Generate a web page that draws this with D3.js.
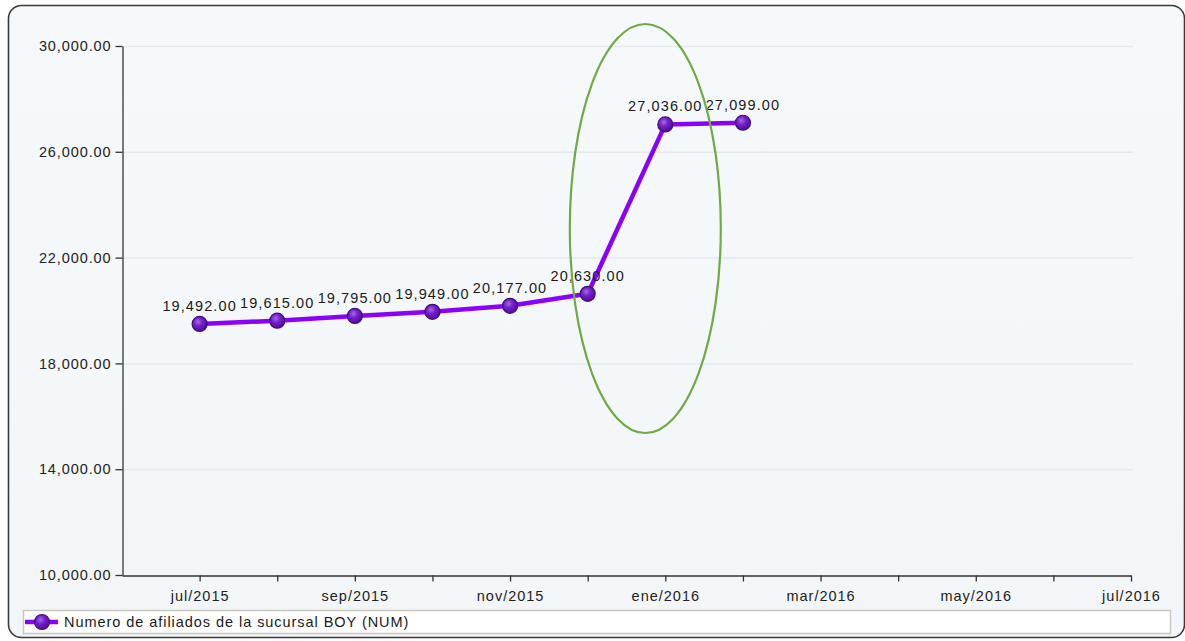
<!DOCTYPE html>
<html>
<head>
<meta charset="utf-8">
<script src="https://cdn.jsdelivr.net/npm/d3@7"></script>
<style>
  html, body { margin: 0; padding: 0; background: #ffffff; }
  svg { display: block; }
  text { font-family: "Liberation Sans", Arial, sans-serif; }
</style>
</head>
<body>
<svg id="chart" width="1185" height="641"></svg>
<script>
// Monthly members of the BOY branch
const months = ["jul/2015", "ago/2015", "sep/2015", "oct/2015", "nov/2015", "dic/2015", "ene/2016", "feb/2016"];
const members = [19492, 19615, 19795, 19949, 20177, 20630, 27036, 27099];

// Axis months (jun/2015 .. jul/2016), every other one labelled
const axisMonths = ["jun/2015", "jul/2015", "ago/2015", "sep/2015", "oct/2015", "nov/2015", "dic/2015",
                    "ene/2016", "feb/2016", "mar/2016", "abr/2016", "may/2016", "jun/2016", "jul/2016"];
const labelledMonths = ["jul/2015", "sep/2015", "nov/2015", "ene/2016", "mar/2016", "may/2016", "jul/2016"];
const yTicks = [10000, 14000, 18000, 22000, 26000, 30000];
const seriesName = "Numero de afiliados de la sucursal BOY (NUM)";

const svg = d3.select("#chart");
const plot = { left: 122, right: 1131, top: 46, bottom: 575 };

const defs = svg.append("defs");
const bg = defs.append("linearGradient").attr("id", "bgGrad").attr("x1", 0).attr("y1", 0).attr("x2", 0).attr("y2", 1);
bg.append("stop").attr("offset", "0%").attr("stop-color", "#f6f9fc");
bg.append("stop").attr("offset", "100%").attr("stop-color", "#f3f6f9");

const mk = defs.append("radialGradient").attr("id", "markerGrad")
  .attr("cx", "40%").attr("cy", "35%").attr("r", "65%");
mk.append("stop").attr("offset", "0%").attr("stop-color", "#a46be0");
mk.append("stop").attr("offset", "45%").attr("stop-color", "#751fcc");
mk.append("stop").attr("offset", "100%").attr("stop-color", "#560aa0");

// Outer frame
svg.append("rect")
  .attr("x", 8.5).attr("y", 5.5).attr("width", 1176).attr("height", 632)
  .attr("rx", 13).attr("ry", 13)
  .attr("fill", "url(#bgGrad)")
  .attr("stroke", "#3a3a3a").attr("stroke-width", 1.6);

// Scales
const x = d3.scalePoint().domain(axisMonths).range([plot.left, plot.right]);
const y = d3.scaleLinear().domain([10000, 30000]).range([plot.bottom, plot.top]);
const fmt = d3.format(",.2f");

// Horizontal gridlines
svg.append("g").selectAll("line")
  .data(yTicks.filter(v => v > 10000))
  .join("line")
  .attr("x1", plot.left).attr("x2", plot.right + 2)
  .attr("y1", d => y(d) + 0.5).attr("y2", d => y(d) + 0.5)
  .attr("stroke", "#e6e9ed").attr("stroke-width", 1.5);

// Y axis
const yAxis = svg.append("g")
  .attr("transform", `translate(${plot.left + 0.5},0)`)
  .call(d3.axisLeft(y).tickValues(yTicks).tickFormat(fmt).tickSize(7).tickPadding(4).tickSizeOuter(0));
yAxis.select(".domain").attr("stroke", "#333").attr("stroke-width", 1.3);
yAxis.selectAll(".tick line").attr("stroke", "#333").attr("stroke-width", 1.3);
yAxis.selectAll(".tick text").attr("font-size", 14.5).attr("fill", "#222")
  .attr("letter-spacing", 0.9)
  .attr("font-family", "Liberation Sans, Arial, sans-serif");

// X axis
const xAxis = svg.append("g")
  .attr("transform", `translate(0,${plot.bottom + 0.5})`)
  .call(d3.axisBottom(x).tickValues(axisMonths.slice(1))
    .tickFormat(d => labelledMonths.includes(d) ? d : "")
    .tickSize(6).tickPadding(6).tickSizeOuter(0));
xAxis.select(".domain").attr("stroke", "#333").attr("stroke-width", 1.3);
xAxis.selectAll(".tick line").attr("stroke", "#333").attr("stroke-width", 1.3);
xAxis.selectAll(".tick text").attr("font-size", 14.5).attr("fill", "#222")
  .attr("letter-spacing", 1).attr("dy", "0.95em")
  .attr("font-family", "Liberation Sans, Arial, sans-serif");

// Series line
const pts = months.map((m, i) => ({ m, v: members[i] }));
svg.append("path")
  .datum(pts)
  .attr("fill", "none")
  .attr("stroke", "#8b00f8")
  .attr("stroke-width", 4.5)
  .attr("stroke-linejoin", "round")
  .attr("d", d3.line().x(d => x(d.m)).y(d => y(d.v)));

// Markers
svg.append("g").selectAll("circle")
  .data(pts)
  .join("circle")
  .attr("cx", d => x(d.m)).attr("cy", d => y(d.v)).attr("r", 7.5)
  .attr("fill", "url(#markerGrad)")
  .attr("stroke", "#3d1170").attr("stroke-width", 1.2);

// Value labels
svg.append("g").selectAll("text")
  .data(pts)
  .join("text")
  .attr("x", d => x(d.m)).attr("y", d => y(d.v) - 13)
  .attr("text-anchor", "middle")
  .attr("font-size", 14.5).attr("letter-spacing", 1.1).attr("fill", "#1a1a1a")
  .text(d => fmt(d.v));

// Highlight ellipse around the jump
svg.append("ellipse")
  .attr("cx", x("ene/2016") - 20)
  .attr("cy", 228.5)
  .attr("rx", 75.5).attr("ry", 204.5)
  .attr("fill", "none")
  .attr("stroke", "#6fab43").attr("stroke-width", 2.2);

// Legend
const lg = svg.append("g");
lg.append("rect")
  .attr("x", 23.5).attr("y", 610.5).attr("width", 1147).attr("height", 23)
  .attr("fill", "#ffffff").attr("stroke", "#c9c6bd").attr("stroke-width", 1.5);
lg.append("line")
  .attr("x1", 25).attr("x2", 58).attr("y1", 622).attr("y2", 622)
  .attr("stroke", "#8b00f8").attr("stroke-width", 4.5);
lg.append("circle")
  .attr("cx", 42).attr("cy", 622).attr("r", 7.5)
  .attr("fill", "url(#markerGrad)")
  .attr("stroke", "#3d1170").attr("stroke-width", 1.2);
lg.append("text")
  .attr("x", 64).attr("y", 627)
  .attr("font-size", 14.5).attr("letter-spacing", 0.95).attr("fill", "#1a1a1a")
  .text(seriesName);
</script>
</body>
</html>
